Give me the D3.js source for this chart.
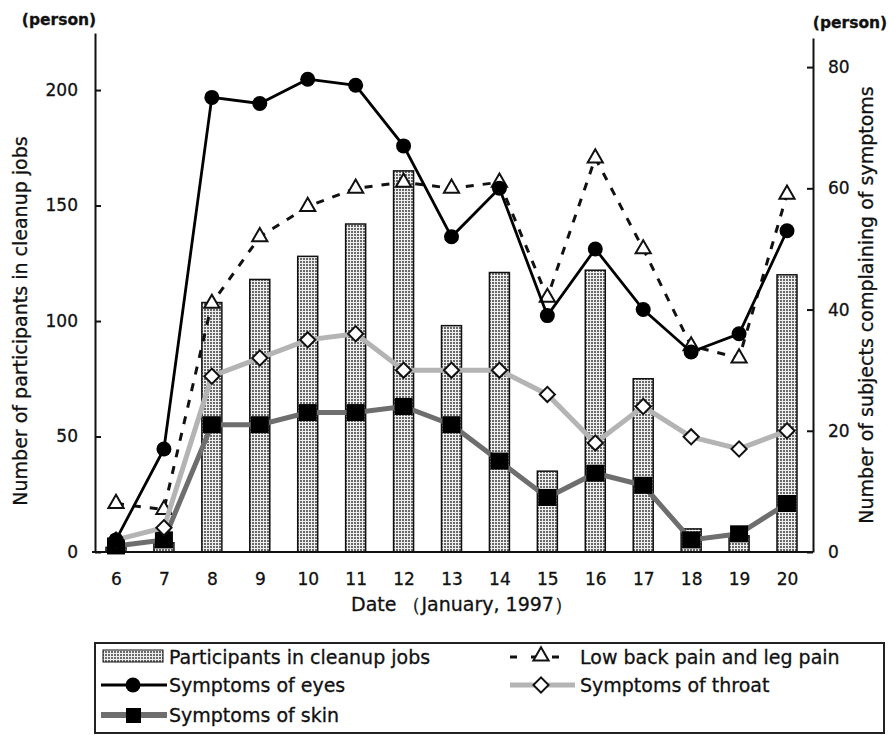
<!DOCTYPE html>
<html>
<head>
<meta charset="utf-8">
<script src="https://cdn.jsdelivr.net/npm/d3@7"></script>
<style>
  body { margin: 0; background: #fff; }
  text { font-family: "DejaVu Sans", sans-serif; fill: #111; stroke: #111; stroke-width: 0.3px; }
</style>
</head>
<body>
<div id="chart"></div>
<script>
// data
var days = [6, 7, 8, 9, 10, 11, 12, 13, 14, 15, 16, 17, 18, 19, 20];
var participants = [2, 4, 108, 118, 128, 142, 165, 98, 121, 35, 122, 75, 10, 7, 120];
var eyes    = [2, 17, 75, 74, 78, 77, 67, 52, 60, 39, 50, 40, 33, 36, 53];
var lowBack = [8, 7, 41, 52, 57, 60, 61, 60, 61, 42, 65, 50, 34, 32, 59];
var throat  = [2, 4, 29, 32, 35, 36, 30, 30, 30, 26, 18, 24, 19, 17, 20];
var skin    = [1, 2, 21, 21, 23, 23, 24, 21, 15, 9, 13, 11, 2, 3, 8];
var leftTicks = [0, 50, 100, 150, 200];
var rightTicks = [0, 20, 40, 60, 80];

var width = 888, height = 735;

var svg = d3.select("#chart")
  .append("svg")
    .attr("width", width)
    .attr("height", height);

// dotted fill for the bars
var pat = svg.append("defs").append("pattern")
    .attr("id", "dots")
    .attr("patternUnits", "userSpaceOnUse")
    .attr("width", 3)
    .attr("height", 3);
pat.append("rect").attr("width", 3).attr("height", 3).attr("fill", "#eeeeee");
pat.append("rect").attr("width", 2).attr("height", 2).attr("fill", "#6a6a6a");

var x = d3.scalePoint().domain(days).range([116, 787]);
var yL = d3.scaleLinear().domain([0, 224.7]).range([552, 33]);
var yR = d3.scaleLinear().domain([0, 84.8]).range([552, 38]);

// bars
svg.append("g")
  .selectAll("rect")
  .data(days)
  .enter()
  .append("rect")
    .attr("x", d => x(d) - 10)
    .attr("width", 20)
    .attr("y", (d, i) => yL(participants[i]))
    .attr("height", (d, i) => yL(0) - yL(participants[i]))
    .attr("fill", "url(#dots)")
    .attr("stroke", "#111")
    .attr("stroke-width", 1.5);

// axes
var gL = svg.append("g")
    .attr("transform", "translate(95,0)")
    .call(d3.axisLeft(yL).tickValues(leftTicks).tickSize(-6).tickSizeOuter(0).tickPadding(17));
var gR = svg.append("g")
    .attr("transform", "translate(813,0)")
    .call(d3.axisRight(yR).tickValues(rightTicks).tickSize(-6).tickSizeOuter(0).tickPadding(15));
var gB = svg.append("g")
    .attr("transform", "translate(0,552)")
    .call(d3.axisBottom(x).tickSize(0).tickPadding(21));
gB.select(".domain").remove();

[gL, gR, gB].forEach(function(g) {
  g.attr("font-family", null).attr("font-size", 17);
  g.selectAll(".domain, line").attr("stroke", "#111").attr("stroke-width", 2);
  g.selectAll("text").attr("fill", "#111");
});

svg.append("line")
    .attr("x1", 92).attr("x2", 813)
    .attr("y1", 552).attr("y2", 552)
    .attr("stroke", "#111").attr("stroke-width", 2);

// axis titles
svg.append("text")
    .attr("x", 59).attr("y", 25)
    .attr("text-anchor", "middle")
    .attr("font-size", 15.5)
    .attr("font-weight", "bold")
    .text("(person)");
svg.append("text")
    .attr("x", 850).attr("y", 28)
    .attr("text-anchor", "middle")
    .attr("font-size", 15.5)
    .attr("font-weight", "bold")
    .text("(person)");
svg.append("text")
    .attr("transform", "rotate(-90)")
    .attr("x", -321).attr("y", 27)
    .attr("text-anchor", "middle")
    .attr("font-size", 19)
    .text("Number of participants in cleanup jobs");
svg.append("text")
    .attr("transform", "rotate(-90)")
    .attr("x", -305).attr("y", 873)
    .attr("text-anchor", "middle")
    .attr("font-size", 19)
    .text("Number of subjects complaining of symptoms");
svg.append("text")
    .attr("x", 462).attr("y", 611)
    .attr("text-anchor", "middle")
    .attr("font-size", 19)
    .text("Date （January, 1997）");

// series lines
function series(vals) {
  return days.map((d, i) => ({day: d, v: vals[i]}));
}
var line = d3.line().x(d => x(d.day)).y(d => yR(d.v));

var triangle = d3.symbol().type(d3.symbolTriangle).size(100);
var diamond = d3.symbol().type(d3.symbolSquare).size(115);

// low back pain
svg.append("path")
    .datum(series(lowBack))
    .attr("d", line)
    .attr("fill", "none")
    .attr("stroke", "#111")
    .attr("stroke-width", 3)
    .attr("stroke-dasharray", "8,9");
svg.append("g").selectAll("path")
  .data(series(lowBack))
  .enter().append("path")
    .attr("d", triangle)
    .attr("transform", d => "translate(" + x(d.day) + "," + yR(d.v) + ")")
    .attr("fill", "#fff")
    .attr("stroke", "#111")
    .attr("stroke-width", 2);

// skin
svg.append("path")
    .datum(series(skin))
    .attr("d", line)
    .attr("fill", "none")
    .attr("stroke", "#6e6e6e")
    .attr("stroke-width", 5);
svg.append("g").selectAll("rect")
  .data(series(skin))
  .enter().append("rect")
    .attr("x", d => x(d.day) - 9)
    .attr("y", d => yR(d.v) - 8.5)
    .attr("width", 18)
    .attr("height", 17)
    .attr("fill", "#000");

// throat
svg.append("path")
    .datum(series(throat))
    .attr("d", line)
    .attr("fill", "none")
    .attr("stroke", "#b4b4b4")
    .attr("stroke-width", 5);
svg.append("g").selectAll("path")
  .data(series(throat))
  .enter().append("path")
    .attr("d", diamond)
    .attr("transform", d => "translate(" + x(d.day) + "," + yR(d.v) + ") rotate(45)")
    .attr("fill", "#fff")
    .attr("stroke", "#111")
    .attr("stroke-width", 2);

// eyes
svg.append("path")
    .datum(series(eyes))
    .attr("d", line)
    .attr("fill", "none")
    .attr("stroke", "#000")
    .attr("stroke-width", 2.8);
svg.append("g").selectAll("circle")
  .data(series(eyes))
  .enter().append("circle")
    .attr("cx", d => x(d.day))
    .attr("cy", d => yR(d.v))
    .attr("r", 7.5)
    .attr("fill", "#000");

// legend
var lg = svg.append("g");
lg.append("rect")
    .attr("x", 95).attr("y", 643)
    .attr("width", 789).attr("height", 90)
    .attr("fill", "none")
    .attr("stroke", "#222")
    .attr("stroke-width", 2);

lg.append("rect")
    .attr("x", 103).attr("y", 650)
    .attr("width", 60).attr("height", 12)
    .attr("fill", "url(#dots)")
    .attr("stroke", "#111");
lg.append("text").attr("x", 169).attr("y", 664).attr("font-size", 19)
    .text("Participants in cleanup jobs");

lg.append("line")
    .attr("x1", 101).attr("x2", 167).attr("y1", 685).attr("y2", 685)
    .attr("stroke", "#000").attr("stroke-width", 3);
lg.append("circle").attr("cx", 133).attr("cy", 685).attr("r", 7.5).attr("fill", "#000");
lg.append("text").attr("x", 169).attr("y", 692).attr("font-size", 19)
    .text("Symptoms of eyes");

lg.append("line")
    .attr("x1", 101).attr("x2", 167).attr("y1", 715).attr("y2", 715)
    .attr("stroke", "#6e6e6e").attr("stroke-width", 6);
lg.append("rect").attr("x", 126).attr("y", 708).attr("width", 15).attr("height", 15).attr("fill", "#000");
lg.append("text").attr("x", 169).attr("y", 722).attr("font-size", 19)
    .text("Symptoms of skin");

lg.append("line")
    .attr("x1", 510).attr("x2", 562).attr("y1", 657).attr("y2", 657)
    .attr("stroke", "#111").attr("stroke-width", 3)
    .attr("stroke-dasharray", "7,14");
lg.append("path")
    .attr("d", triangle)
    .attr("transform", "translate(541,656)")
    .attr("fill", "#fff").attr("stroke", "#111").attr("stroke-width", 2);
lg.append("text").attr("x", 580).attr("y", 664).attr("font-size", 19)
    .text("Low back pain and leg pain");

lg.append("line")
    .attr("x1", 510).attr("x2", 575).attr("y1", 685).attr("y2", 685)
    .attr("stroke", "#b4b4b4").attr("stroke-width", 5);
lg.append("path")
    .attr("d", diamond)
    .attr("transform", "translate(541,685) rotate(45)")
    .attr("fill", "#fff").attr("stroke", "#111").attr("stroke-width", 2);
lg.append("text").attr("x", 580).attr("y", 692).attr("font-size", 19)
    .text("Symptoms of throat");
</script>
</body>
</html>
